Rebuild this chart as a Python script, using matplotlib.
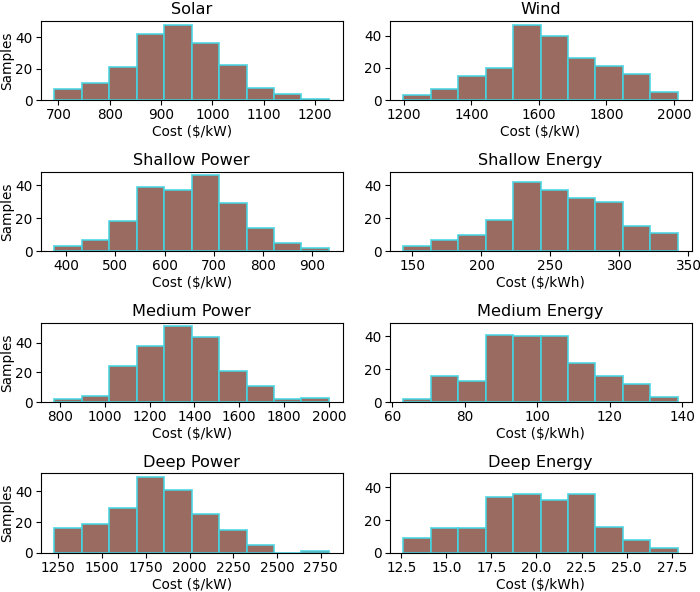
import numpy as np
import matplotlib
matplotlib.use("Agg")
import matplotlib.pyplot as plt
from matplotlib.ticker import MultipleLocator

# ..............................................................................
titles = ["Solar", "Wind", "Shallow Power", "Shallow Energy",
          "Medium Power", "Medium Energy", "Deep Power", "Deep Energy"]
xlabels = ["Cost ($/kW)", "Cost ($/kW)", "Cost ($/kW)", "Cost ($/kWh)",
           "Cost ($/kW)", "Cost ($/kWh)", "Cost ($/kW)", "Cost ($/kWh)"]

# bin range (first edge, last edge), 10 bins each
ranges = [(692, 1227), (1198, 2012), (376, 934), (143.3, 342.3),
          (775, 2000), (63.0, 138.8), (1227, 2797), (12.61, 27.84)]

solar = [7, 11, 21, 42, 48, 36, 22, 8, 4, 1]
wind = [3, 7, 15, 20, 47, 40, 26, 21, 16, 5]
shallowPower = [3, 7, 18, 39, 37, 46, 29, 14, 5, 2]
shallowEnergy = [3, 7, 10, 19, 42, 37, 32, 30, 15, 11]
mediumPower = [2, 4, 24, 38, 51, 44, 21, 11, 2, 3]
mediumEnergy = [2, 16, 13, 41, 40, 40, 24, 16, 11, 3]
deepPower = [16, 19, 29, 49, 41, 25, 15, 5, 0, 1]
deepEnergy = [9, 15, 15, 34, 36, 32, 36, 16, 8, 3]

countsL = [solar, wind, shallowPower, shallowEnergy,
           mediumPower, mediumEnergy, deepPower, deepEnergy]

# x tick step per panel
xsteps = [100, 200, 100, 50, 200, 20, 250, 2.5]

# y-axis top as seen on the picture
ytops = [50.4, 49.4, 48.3, 48.3, 53.5, 48.3, 51.5, 48.3]

# ==============================================================================
fig, axs = plt.subplots(4, 2, figsize=(7, 5.92), dpi=100)

for i, ax in enumerate(axs.flat):
    lo, hi = ranges[i]
    edges = np.linspace(lo, hi, 11)
    ax.hist(edges[:-1], bins=edges, weights=countsL[i],
            color="#8c564b", alpha=0.88, edgecolor="#45d6e2", linewidth=1.3)
    ax.set_title(titles[i], fontsize=11.6, pad=5)
    ax.set_xlabel(xlabels[i], fontsize=9.8, labelpad=2)
    ax.set_ylim(0, ytops[i])
    ax.yaxis.set_major_locator(MultipleLocator(20))
    ax.xaxis.set_major_locator(MultipleLocator(xsteps[i]))
    ax.tick_params(labelsize=9.8, length=3.3, pad=2.5)
    if i % 2 == 0:
        ax.set_ylabel("Samples", fontsize=9.8, labelpad=1)

plt.subplots_adjust(left=0.058, right=0.988, top=0.965, bottom=0.066,
                    wspace=0.155, hspace=0.9)
plt.savefig("out.png")
plt.close()
